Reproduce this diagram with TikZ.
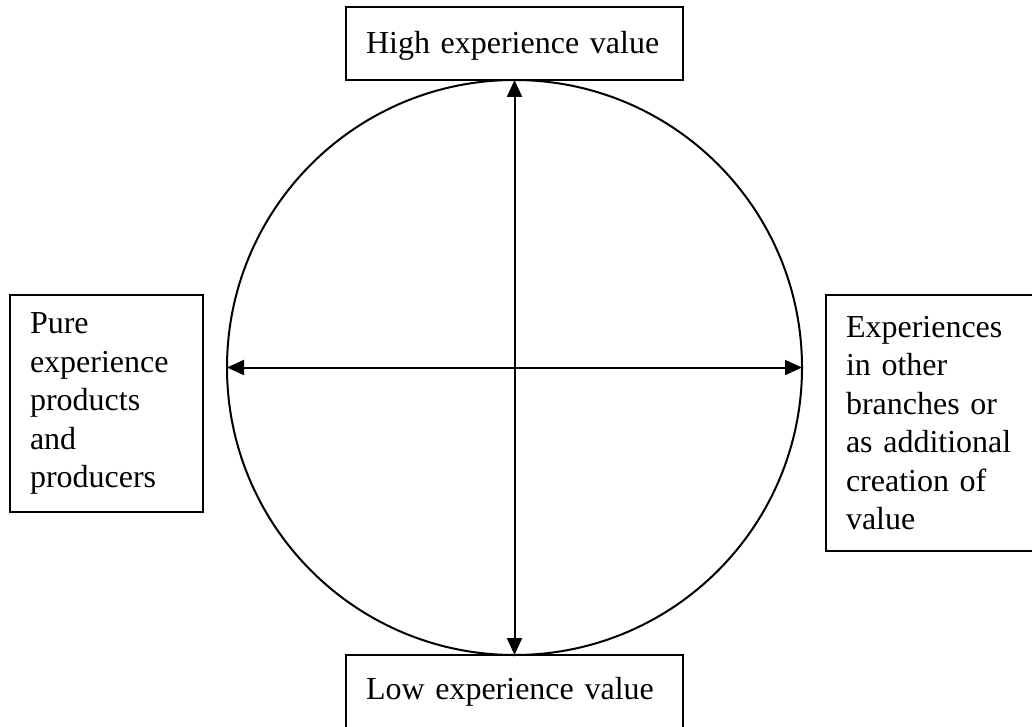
\documentclass[tikz,border=0pt]{standalone}
\usepackage{fontspec}
\setmainfont{Liberation Serif}
\usetikzlibrary{arrows.meta,positioning}

\begin{document}
\begin{tikzpicture}[x=1pt,y=-1pt,>={Triangle[length=17pt,width=15pt]},line width=2pt,
        every node/.append style={align=left,outer sep=0pt,font=\fontsize{32}{38.5}\selectfont},
        box/.style={draw, inner xsep=20pt, inner ysep=0pt}]
        \useasboundingbox (0,0) rectangle (1032,727);
        \clip (0,0) rectangle (1032,727);
        \node [draw, circle, minimum size=575pt, inner sep=0pt] (ring) at (514.5,367.5) {};
        \node [box, text width=297pt, minimum height=73pt, text depth=2pt, above=0pt of ring] (high) {High experience value};
        \node [box, text width=297pt, minimum height=73pt, below=0pt of ring] (low) {Low experience value};
        \node [box, text width=152.5pt, minimum height=217pt, anchor=north east] (pure) at (202.5,295) {Pure\\experience\\products\\and\\producers};
        \node [box, text width=175pt, minimum height=256pt, anchor=north west] (other) at (826,295) {Experiences\\in other\\branches or\\as additional\\creation of\\value};
        \draw [<->] (ring.north) -- (ring.south);
        \draw [<->] (ring.west) -- (ring.east);
    \end{tikzpicture}
\end{document}
